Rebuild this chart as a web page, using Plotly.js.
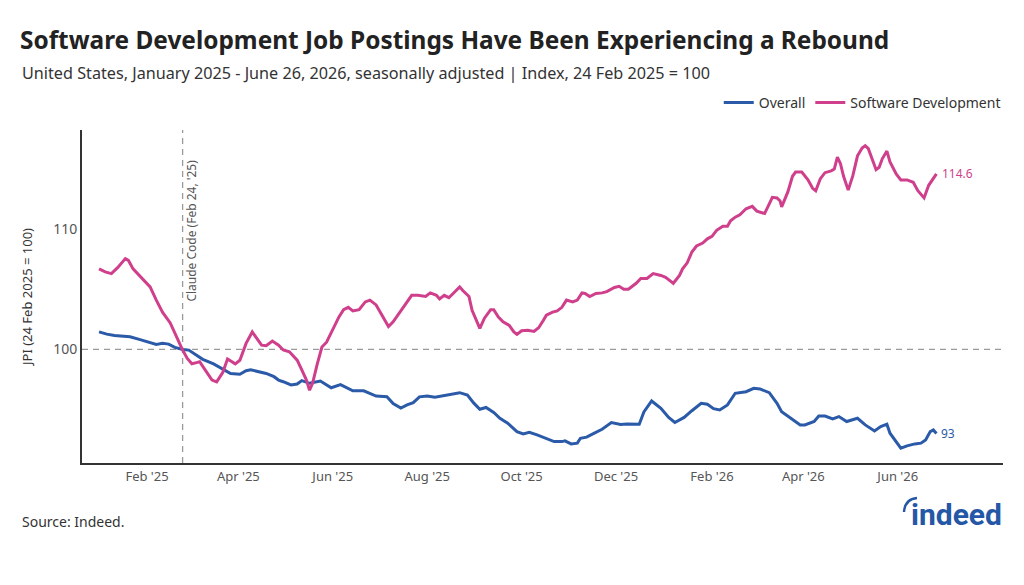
<!DOCTYPE html>
<html>
<head>
<meta charset="utf-8">
<script src="https://cdn.plot.ly/plotly-3.0.1.min.js"></script>
<style>
  html, body { margin: 0; padding: 0; background: #fff; }
  #chart { width: 1024px; height: 585px; }
</style>
</head>
<body>
<div id="chart"></div>
<script>
// Indeed Job Postings Index, 7-day averages, Index 24 Feb 2025 = 100
const softwareDates = [
  '2025-01-01','2025-01-05','2025-01-09','2025-01-13','2025-01-18','2025-01-20','2025-01-23','2025-01-28',
  '2025-02-03','2025-02-07','2025-02-11','2025-02-16','2025-02-20','2025-02-24','2025-02-27',
  '2025-03-02','2025-03-05','2025-03-07','2025-03-10','2025-03-15','2025-03-18','2025-03-22','2025-03-25','2025-03-30',
  '2025-04-02','2025-04-06','2025-04-10','2025-04-13','2025-04-16','2025-04-19','2025-04-23','2025-04-27','2025-04-30',
  '2025-05-04','2025-05-09','2025-05-12','2025-05-15','2025-05-17','2025-05-19','2025-05-22','2025-05-25','2025-05-28',
  '2025-06-01','2025-06-05','2025-06-08','2025-06-11','2025-06-14','2025-06-18','2025-06-22','2025-06-25','2025-06-29',
  '2025-07-03','2025-07-07','2025-07-10','2025-07-13','2025-07-18','2025-07-22','2025-07-26','2025-07-31',
  '2025-08-03','2025-08-07','2025-08-09','2025-08-12','2025-08-15','2025-08-18','2025-08-22','2025-08-24','2025-08-28','2025-08-30',
  '2025-09-02','2025-09-04','2025-09-07','2025-09-11','2025-09-13','2025-09-16','2025-09-19','2025-09-23','2025-09-26','2025-09-28',
  '2025-10-01','2025-10-05','2025-10-09','2025-10-12','2025-10-15','2025-10-17','2025-10-21','2025-10-24','2025-10-27','2025-10-30',
  '2025-11-03','2025-11-06','2025-11-09','2025-11-11','2025-11-14','2025-11-18','2025-11-22','2025-11-25','2025-11-30',
  '2025-12-03','2025-12-06','2025-12-09','2025-12-14','2025-12-17','2025-12-21','2025-12-25','2025-12-30',
  '2026-01-02','2026-01-05','2026-01-07','2026-01-11','2026-01-13','2026-01-16','2026-01-19','2026-01-22','2026-01-26','2026-01-29',
  '2026-02-01','2026-02-04','2026-02-08','2026-02-11','2026-02-13','2026-02-16','2026-02-19','2026-02-23','2026-02-27',
  '2026-03-02','2026-03-07','2026-03-10','2026-03-12','2026-03-15','2026-03-17','2026-03-18','2026-03-22','2026-03-25','2026-03-27','2026-03-31',
  '2026-04-04','2026-04-07','2026-04-09','2026-04-12','2026-04-15','2026-04-19','2026-04-21','2026-04-23','2026-04-25','2026-04-27','2026-04-30',
  '2026-05-03','2026-05-06','2026-05-09','2026-05-11','2026-05-13','2026-05-16','2026-05-18','2026-05-20','2026-05-22','2026-05-25','2026-05-27','2026-05-31',
  '2026-06-03','2026-06-07','2026-06-11','2026-06-14','2026-06-18','2026-06-21','2026-06-26'
];
const softwareValues = [
  106.7,106.45,106.3,106.8,107.55,107.4,106.7,106.0,
  105.2,104.1,103.1,102.2,101.05,99.95,99.25,
  98.8,98.9,98.97,98.4,97.45,97.3,98.1,99.2,98.8,
  99.1,100.5,101.45,100.9,100.35,100.3,100.7,100.35,99.95,
  99.8,99.1,98.3,97.45,96.6,97.2,98.8,100.2,100.6,
  101.6,102.7,103.3,103.5,103.2,103.3,103.95,104.1,103.7,
  102.85,101.9,102.3,102.85,103.7,104.5,104.5,104.4,
  104.7,104.5,104.2,104.5,104.3,104.65,105.2,104.9,104.4,103.25,
  102.3,101.75,102.6,103.3,103.3,102.7,102.3,102.0,101.45,101.25,
  101.55,101.6,101.5,101.8,102.4,102.85,103.1,103.2,103.5,104.1,
  103.95,104.1,104.7,104.65,104.4,104.65,104.7,104.8,105.15,
  105.25,105.0,105.0,105.5,105.9,105.9,106.3,106.15,
  106.0,105.7,105.5,106.15,106.7,107.2,108.1,108.6,108.85,109.2,
  109.4,109.9,110.25,110.25,110.7,111.0,111.2,111.7,111.9,
  111.5,111.3,112.1,112.65,112.6,112.35,111.85,113.1,114.4,114.75,114.75,
  114.1,113.4,113.2,114.2,114.7,114.85,115.0,116.0,115.45,114.4,113.25,
  114.45,116.1,116.75,116.95,116.7,115.7,114.95,115.15,115.85,116.5,115.6,114.6,
  114.1,114.1,113.9,113.2,112.6,113.65,114.6
];

const overallDates = [
  '2025-01-01','2025-01-06','2025-01-11','2025-01-21','2025-01-27',
  '2025-02-03','2025-02-07','2025-02-11','2025-02-15','2025-02-19','2025-02-24','2025-02-28',
  '2025-03-04','2025-03-09','2025-03-16','2025-03-21','2025-03-27',
  '2025-04-02','2025-04-06','2025-04-09','2025-04-15','2025-04-19','2025-04-24','2025-04-27','2025-04-30',
  '2025-05-05','2025-05-09','2025-05-12','2025-05-17','2025-05-24','2025-05-31',
  '2025-06-06','2025-06-14','2025-06-21','2025-06-29',
  '2025-07-06','2025-07-10','2025-07-15','2025-07-19','2025-07-23','2025-07-27',
  '2025-08-01','2025-08-06','2025-08-14','2025-08-22','2025-08-27','2025-08-31',
  '2025-09-04','2025-09-08','2025-09-13','2025-09-17','2025-09-22','2025-09-28',
  '2025-10-02','2025-10-06','2025-10-11','2025-10-16','2025-10-22','2025-10-27','2025-10-29',
  '2025-11-02','2025-11-06','2025-11-08','2025-11-12','2025-11-17','2025-11-22','2025-11-28',
  '2025-12-04','2025-12-08','2025-12-16','2025-12-19','2025-12-24','2025-12-30',
  '2026-01-04','2026-01-08','2026-01-14','2026-01-19','2026-01-25','2026-01-29',
  '2026-02-02','2026-02-06','2026-02-11','2026-02-16','2026-02-21','2026-02-23','2026-02-28',
  '2026-03-04','2026-03-10','2026-03-15','2026-03-18','2026-03-24','2026-03-30',
  '2026-04-02','2026-04-08','2026-04-11','2026-04-15','2026-04-20','2026-04-24','2026-04-29',
  '2026-05-06','2026-05-11','2026-05-17','2026-05-21','2026-05-25','2026-05-27','2026-05-31',
  '2026-06-03','2026-06-07','2026-06-12','2026-06-16','2026-06-19','2026-06-22','2026-06-24','2026-06-26'
];
const overallValues = [
  101.46,101.27,101.16,101.05,100.83,
  100.55,100.41,100.5,100.44,100.17,100.0,99.94,
  99.6,99.17,98.8,98.42,98.0,
  97.93,98.22,98.3,98.14,98.0,97.73,97.45,97.31,
  97.04,97.12,97.4,97.18,97.37,96.81,
  97.07,96.55,96.55,96.12,
  96.07,95.5,95.12,95.38,95.57,96.05,
  96.12,96.03,96.2,96.4,96.2,95.55,
  95.02,95.17,94.75,94.27,93.86,93.16,
  92.97,93.11,92.89,92.66,92.33,92.33,92.39,
  92.14,92.2,92.61,92.7,93.03,93.36,93.91,
  93.75,93.8,93.78,94.8,95.71,95.1,
  94.34,93.92,94.34,94.9,95.52,95.44,
  95.07,94.96,95.38,96.35,96.48,96.48,96.76,
  96.71,96.4,95.52,94.82,94.27,93.72,
  93.72,94.0,94.46,94.46,94.22,94.41,94.0,
  94.27,93.72,93.22,93.58,93.78,93.03,92.33,
  91.78,91.98,92.14,92.2,92.47,93.16,93.3,93.0
];

const seriesNames = ['Overall', 'Software Development'];
const yTicks = [100, 110];
const xTicks = ['2025-02-01','2025-04-01','2025-06-01','2025-08-01','2025-10-01','2025-12-01','2026-02-01','2026-04-01','2026-06-01'];
const xTickLabels = ["Feb '25","Apr '25","Jun '25","Aug '25","Oct '25","Dec '25","Feb '26","Apr '26","Jun '26"];
const eventDate = '2025-02-24';
const eventLabel = "Claude Code (Feb 24, '25)";

const BLUE = '#2a5aa8';
const PINK = '#cf3f8b';
const FONT = 'Noto Sans, Open Sans, sans-serif';

// plot-area geometry in pixels, used to place the free text
const PL = 82, PR = 1003, PT = 130, PB = 463;
const px = v => (v - PL) / (PR - PL);
const py = v => (PB - v) / (PB - PT);

const traces = [
  {
    x: overallDates, y: overallValues, name: seriesNames[0],
    type: 'scatter', mode: 'lines',
    line: { color: BLUE, width: 3 }, hoverinfo: 'skip'
  },
  {
    x: softwareDates, y: softwareValues, name: seriesNames[1],
    type: 'scatter', mode: 'lines',
    line: { color: PINK, width: 3 }, hoverinfo: 'skip'
  }
];

const lastSoft = softwareValues[softwareValues.length - 1];
const lastAll = overallValues[overallValues.length - 1];

const layout = {
  width: 1024, height: 585,
  margin: { l: PL, r: 1024 - PR, t: PT, b: 585 - PB },
  paper_bgcolor: '#ffffff', plot_bgcolor: '#ffffff',
  font: { family: FONT, color: '#444' },
  showlegend: true,
  legend: {
    orientation: 'h', x: 1.003, xanchor: 'right', y: py(103), yanchor: 'middle',
    font: { family: FONT, size: 14, color: '#333' },
    bgcolor: 'rgba(0,0,0,0)', itemwidth: 30, tracegroupgap: 0
  },
  title: {
    text: 'Software Development Job Postings Have Been Experiencing a Rebound',
    x: 20 / 1024, xref: 'container', xanchor: 'left',
    y: 1 - 40 / 585, yref: 'container', yanchor: 'middle',
    font: { family: FONT, size: 24.4, color: '#222', weight: 700 }
  },
  xaxis: {
    type: 'date',
    range: ['2024-12-21', '2026-08-08'],
    tickmode: 'array', tickvals: xTicks, ticktext: xTickLabels,
    showgrid: false, zeroline: false,
    showline: true, linecolor: '#333', linewidth: 2,
    ticks: '', tickfont: { family: FONT, size: 13, color: '#555' },
    fixedrange: true
  },
  yaxis: {
    range: [90.55, 118.25],
    tickvals: yTicks, ticktext: yTicks.map(String),
    showgrid: false, zeroline: false,
    showline: true, linecolor: '#333', linewidth: 2,
    ticks: '', tickfont: { family: FONT, size: 14, color: '#555' },
    title: { text: 'JPI (24 Feb 2025 = 100)', font: { family: FONT, size: 13, color: '#333' }, standoff: 18 },
    fixedrange: true
  },
  shapes: [
    { type: 'line', xref: 'paper', yref: 'y', x0: 0, x1: 1, y0: 100, y1: 100,
      line: { color: '#9a9a9a', width: 1.3, dash: '6px,5px' }, layer: 'below' },
    { type: 'line', xref: 'x', yref: 'paper', x0: eventDate, x1: eventDate, y0: 0, y1: 1,
      line: { color: '#9a9a9a', width: 1.3, dash: '6px,5px' }, layer: 'below' },
    // swoosh over the "i" of the wordmark
    { type: 'path', xref: 'paper', yref: 'paper',
      xsizemode: 'pixel', ysizemode: 'pixel', xanchor: px(904), yanchor: py(512),
      path: 'M 0,0 Q 1,13 13,14',
      line: { color: '#2557a7', width: 2.4 }, fillcolor: 'rgba(0,0,0,0)' }
  ],
  annotations: [
    { xref: 'paper', yref: 'paper', x: px(20), y: py(73), xanchor: 'left', yanchor: 'middle',
      text: 'United States, January 2025 - June 26, 2026, seasonally adjusted | Index, 24 Feb 2025 = 100',
      showarrow: false, font: { family: FONT, size: 16.2, color: '#333' } },
    { xref: 'x', yref: 'paper', x: eventDate, xshift: 8, y: py(158), xanchor: 'center', yanchor: 'top',
      text: eventLabel, textangle: -90, showarrow: false,
      font: { family: FONT, size: 12, color: '#555' } },
    { xref: 'x', yref: 'y', x: softwareDates[softwareDates.length - 1], y: lastSoft,
      xanchor: 'left', yanchor: 'middle', xshift: 4,
      text: String(lastSoft), showarrow: false, font: { family: FONT, size: 12, color: PINK } },
    { xref: 'x', yref: 'y', x: overallDates[overallDates.length - 1], y: lastAll,
      xanchor: 'left', yanchor: 'middle', xshift: 3,
      text: String(lastAll), showarrow: false, font: { family: FONT, size: 12, color: BLUE } },
    { xref: 'paper', yref: 'paper', x: px(20), y: py(521), xanchor: 'left', yanchor: 'middle',
      text: 'Source: Indeed.', showarrow: false, font: { family: FONT, size: 14, color: '#333' } },
    { xref: 'paper', yref: 'paper', x: px(1004), y: py(514), xanchor: 'right', yanchor: 'middle',
      text: '<b>indeed</b>', showarrow: false,
      font: { family: 'Roboto, Noto Sans, sans-serif', size: 30, color: '#2557a7' } }
  ]
};

Plotly.newPlot('chart', traces, layout, { displayModeBar: false, staticPlot: true });
</script>
</body>
</html>
